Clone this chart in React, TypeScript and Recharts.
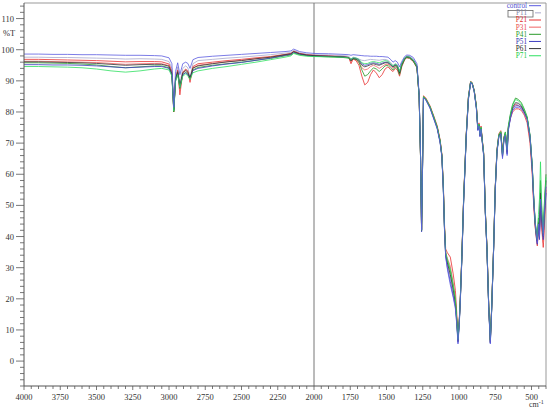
import { LineChart, Line, XAxis, YAxis, ReferenceLine } from 'recharts';

// wavenumbers, cm-1 (descending, the axis is reversed)
const wavenumbers = [
  4000, 3900, 3800, 3700, 3600, 3500, 3400, 3300, 3200, 3100,
  3050, 3000, 2980, 2967, 2955, 2940, 2925, 2905, 2885, 2870,
  2855, 2835, 2800, 2700, 2600, 2500, 2400, 2300, 2200, 2160,
  2140, 2100, 2050, 2000, 1900, 1800, 1760, 1745, 1730, 1710,
  1690, 1670, 1650, 1630, 1610, 1590, 1570, 1550, 1530, 1510,
  1490, 1470, 1455, 1440, 1425, 1410, 1395, 1375, 1360, 1340,
  1315, 1290, 1275, 1265, 1258, 1252, 1245, 1230, 1200, 1176,
  1150, 1130, 1118, 1108, 1100, 1092, 1080, 1060, 1040, 1025,
  1015, 1007, 998, 991, 980, 968, 950, 935, 920, 910,
  895, 880, 870, 862, 855, 848, 840, 830, 818, 807,
  795, 784, 775, 761, 750, 738, 725, 712, 700, 690,
  680, 668, 660, 645, 630, 610, 590, 570, 550, 530,
  510, 495, 485, 475, 465, 460, 452, 445, 438, 431,
  425, 419, 412, 405, 400,
];

const control = [
  98.6, 98.6, 98.5, 98.5, 98.4, 98.4, 98.3, 98.2, 98.2, 98.1,
  98.0, 97.4, 95.5, 81.5, 93.0, 95.8, 92.0, 95.5, 96.0, 95.6,
  94.0, 96.8, 97.5, 97.9, 98.2, 98.5, 98.8, 99.1, 99.4, 99.6,
  100.2, 99.4, 99.0, 98.8, 98.7, 98.5, 98.4, 98.2, 98.4, 98.3,
  98.2, 98.1, 98.0, 98.0, 97.9, 97.9, 97.9, 97.8, 97.8, 97.7,
  97.6, 96.8, 96.0, 96.5, 96.0, 94.5, 96.2, 97.8, 98.3, 98.2,
  97.5, 95.5, 86.0, 66.0, 42.0, 60.0, 84.5, 84.0, 81.2, 78.0,
  74.5, 70.0, 65.5, 55.0, 42.0, 33.5, 29.5, 24.5, 20.5, 16.8,
  11.5, 5.5, 12.0, 19.0, 33.0, 51.0, 72.0, 84.0, 89.5, 89.2,
  86.5, 81.0, 74.0, 75.5, 72.0, 74.5, 70.5, 66.0, 47.0, 35.5,
  17.0, 5.5, 16.0, 36.0, 55.0, 67.0, 72.0, 73.0, 65.0, 71.0,
  72.5, 66.0, 74.0, 78.0, 80.5, 81.5, 81.5, 81.0, 79.5, 77.5,
  72.0, 62.0, 52.0, 44.5, 40.0, 38.0, 44.0, 40.0, 52.0, 48.0,
  44.0, 40.0, 47.0, 52.0, 56.0,
];

const p11 = [
  97.6, 97.6, 97.5, 97.5, 97.4, 97.3, 97.2, 97.0, 97.1, 97.0,
  96.9, 96.2, 94.0, 80.5, 91.0, 94.5, 89.0, 94.0, 94.8, 94.2,
  91.0, 95.5, 96.5, 96.9, 97.3, 97.6, 98.0, 98.4, 98.9, 99.1,
  99.8, 99.0, 98.6, 98.4, 98.3, 98.1, 97.9, 97.0, 97.6, 97.4,
  97.0, 96.6, 96.5, 96.7, 96.9, 96.8, 96.7, 96.6, 96.8, 96.9,
  96.6, 95.8, 95.0, 95.5, 95.2, 93.0, 95.6, 97.5, 98.0, 97.9,
  97.0, 95.0, 85.5, 65.5, 42.0, 60.5, 84.8, 84.2, 81.6, 78.4,
  75.0, 70.5, 66.0, 55.5, 42.5, 34.0, 31.0, 27.0, 22.0, 18.5,
  12.5, 6.5, 13.0, 20.0, 34.0, 52.0, 72.5, 84.5, 89.6, 89.3,
  86.8, 81.5, 74.5, 76.0, 72.5, 75.0, 71.0, 66.5, 47.5, 36.0,
  17.5, 6.0, 16.5, 36.5, 55.5, 67.5, 72.5, 73.5, 66.0, 71.5,
  73.0, 67.0, 74.5, 78.5, 81.0, 82.5, 82.5, 82.0, 80.0, 78.0,
  72.5, 62.5, 52.5, 45.0, 40.5, 39.0, 45.0, 41.0, 55.0, 47.0,
  43.0, 41.0, 48.0, 53.0, 57.0,
];

const p21 = [
  96.9, 96.9, 96.8, 96.7, 96.6, 96.5, 96.3, 96.1, 96.2, 96.2,
  96.1, 95.4, 93.0, 80.0, 90.0, 93.5, 85.5, 92.8, 93.8, 93.2,
  89.5, 94.6, 95.5, 96.0, 96.5, 96.9, 97.4, 97.8, 98.5, 98.8,
  99.5, 98.8, 98.4, 98.2, 98.0, 97.8, 97.5, 95.5, 97.0, 96.5,
  95.0, 91.5, 88.7, 89.5, 92.0, 93.5, 92.5, 91.0, 92.0, 93.8,
  94.5, 93.5, 93.0, 94.0, 93.5, 91.5, 94.5, 96.8, 97.4, 97.2,
  96.2, 94.2, 85.0, 65.0, 42.5, 61.0, 85.2, 84.6, 82.0, 79.0,
  75.5, 71.0, 66.5, 57.0, 44.0, 36.0, 34.8, 33.4, 28.0, 22.7,
  15.0, 7.5, 13.5, 20.5, 34.5, 52.5, 73.0, 85.0, 89.8, 89.5,
  87.0, 82.0, 75.0, 76.5, 73.0, 75.5, 71.5, 67.0, 48.0, 36.5,
  18.0, 7.0, 17.0, 37.0, 56.0, 68.0, 73.0, 74.0, 67.0, 72.0,
  73.5, 68.0, 75.0, 78.0, 80.0, 81.0, 81.0, 80.5, 79.0, 76.5,
  70.0, 60.0, 50.0, 43.0, 39.0, 37.0, 42.0, 40.0, 50.0, 43.0,
  40.0, 36.5, 42.0, 50.0, 55.0,
];

const p31 = [
  96.3, 96.3, 96.2, 96.1, 96.0, 95.9, 95.6, 95.3, 95.5, 95.6,
  95.5, 94.9, 92.5, 80.5, 90.5, 93.0, 87.0, 92.5, 93.3, 92.8,
  90.0, 94.2, 95.0, 95.6, 96.1, 96.6, 97.1, 97.6, 98.3, 98.6,
  99.4, 98.7, 98.3, 98.1, 97.9, 97.7, 97.4, 96.0, 97.1, 96.8,
  95.8, 94.2, 93.5, 93.8, 94.6, 95.0, 94.6, 94.0, 94.6, 95.2,
  95.4, 94.6, 94.0, 94.8, 94.4, 92.2, 95.0, 97.0, 97.6, 97.4,
  96.4, 94.4, 85.2, 65.2, 42.2, 60.8, 85.0, 84.4, 81.8, 78.8,
  75.2, 70.8, 66.2, 56.0, 43.0, 35.0, 33.0, 30.5, 25.0, 20.5,
  13.5, 7.0, 13.0, 20.0, 34.0, 52.0, 72.8, 84.8, 89.7, 89.4,
  86.9, 81.8, 74.8, 76.2, 72.8, 75.2, 71.2, 66.8, 47.8, 36.2,
  17.8, 6.8, 16.8, 36.8, 55.8, 67.8, 72.8, 73.8, 66.5, 71.8,
  73.2, 67.5, 74.8, 78.6, 81.2, 82.5, 82.0, 81.5, 79.8, 77.5,
  71.0, 61.0, 51.0, 43.5, 39.5, 37.5, 43.0, 41.0, 51.0, 45.0,
  41.0, 38.0, 44.0, 51.0, 56.0,
];

const p41 = [
  95.8, 95.8, 95.7, 95.6, 95.4, 95.1, 94.6, 94.2, 94.5, 94.8,
  94.8, 94.2, 92.0, 80.0, 90.0, 92.5, 87.5, 92.0, 92.8, 92.2,
  90.5, 93.5, 94.3, 95.0, 95.5, 96.0, 96.6, 97.2, 98.0, 98.3,
  99.0, 98.4, 98.1, 97.9, 97.7, 97.5, 97.3, 96.5, 97.0, 96.9,
  96.0, 93.5, 91.5, 92.0, 93.2, 94.2, 93.8, 93.0, 93.8, 94.8,
  95.0, 94.0, 93.5, 94.5, 94.0, 92.0, 94.8, 96.9, 97.5, 97.3,
  96.3, 94.3, 85.1, 65.1, 42.1, 60.6, 84.9, 84.3, 81.7, 78.6,
  75.0, 70.6, 66.0, 55.8, 42.8, 34.6, 32.2, 29.0, 24.0, 19.5,
  13.0, 6.8, 12.8, 19.8, 33.8, 51.8, 72.6, 84.6, 89.6, 89.4,
  86.8, 81.6, 74.6, 76.0, 72.6, 75.0, 71.0, 66.6, 47.6, 36.0,
  17.6, 6.6, 16.6, 36.6, 55.6, 67.6, 72.6, 73.6, 66.2, 71.6,
  73.6, 68.0, 75.5, 79.5, 82.5, 84.5, 84.0, 83.0, 81.0, 78.5,
  72.5, 63.0, 53.0, 45.0, 40.5, 39.5, 46.0, 44.0, 58.0, 50.0,
  45.0, 42.0, 50.0, 56.0, 60.0,
];

const p51 = [
  95.2, 95.2, 95.1, 95.1, 95.0, 94.8, 94.5, 94.2, 94.4, 94.6,
  94.6, 94.0, 91.8, 80.5, 90.2, 92.5, 88.0, 92.0, 92.6, 92.0,
  91.0, 93.3, 94.0, 94.8, 95.4, 95.9, 96.6, 97.3, 98.2, 98.5,
  99.2, 98.6, 98.2, 98.0, 97.9, 97.7, 97.5, 96.8, 97.3, 97.2,
  96.8, 95.5, 95.0, 95.2, 95.6, 95.8, 95.6, 95.3, 95.7, 96.0,
  96.0, 95.2, 94.5, 95.2, 94.8, 92.8, 95.4, 97.2, 97.8, 97.6,
  96.7, 94.7, 85.3, 65.3, 41.5, 60.2, 84.6, 84.0, 81.3, 78.2,
  74.7, 70.2, 65.7, 55.2, 42.2, 33.8, 30.0, 25.5, 21.0, 17.5,
  12.0, 6.0, 12.3, 19.3, 33.3, 51.3, 72.2, 84.2, 89.5, 89.2,
  86.6, 81.2, 74.2, 75.7, 72.2, 74.7, 70.7, 66.2, 47.2, 35.7,
  17.2, 5.8, 16.2, 36.2, 55.2, 67.2, 72.2, 73.2, 65.5, 71.2,
  72.8, 66.5, 74.2, 78.2, 81.0, 82.0, 82.0, 81.5, 80.0, 78.0,
  72.0, 62.0, 52.0, 44.0, 39.0, 37.5, 43.0, 39.0, 50.0, 46.0,
  42.0, 39.0, 46.0, 50.0, 54.0,
];

const p61 = [
  96.1, 96.1, 96.0, 95.9, 95.8, 95.6, 95.3, 95.0, 95.2, 95.3,
  95.3, 94.7, 92.4, 80.8, 90.6, 93.0, 88.5, 92.6, 93.4, 92.8,
  91.0, 94.1, 94.8, 95.5, 96.1, 96.5, 97.1, 97.6, 98.4, 98.7,
  99.4, 98.7, 98.3, 98.1, 97.9, 97.7, 97.5, 96.4, 97.2, 97.0,
  96.4, 95.0, 94.5, 94.8, 95.2, 95.5, 95.2, 95.0, 95.4, 95.8,
  95.8, 95.0, 94.4, 95.0, 94.6, 92.5, 95.2, 97.1, 97.7, 97.5,
  96.5, 94.5, 85.2, 65.2, 41.8, 60.4, 84.7, 84.1, 81.5, 78.4,
  74.9, 70.4, 65.8, 55.4, 42.4, 34.2, 31.5, 27.8, 23.0, 18.8,
  12.8, 6.3, 12.6, 19.6, 33.6, 51.6, 72.4, 84.4, 89.5, 89.3,
  86.7, 81.4, 74.4, 75.9, 72.4, 74.9, 70.9, 66.4, 47.4, 35.9,
  17.4, 6.0, 16.4, 36.4, 55.4, 67.4, 72.4, 73.4, 65.8, 71.4,
  73.0, 67.0, 74.6, 78.8, 81.6, 83.0, 82.8, 82.0, 80.2, 78.0,
  72.0, 62.5, 52.5, 44.5, 40.0, 38.5, 44.5, 42.0, 54.0, 47.0,
  43.0, 40.0, 47.0, 54.0, 58.0,
];

const p71 = [
  94.6, 94.6, 94.5, 94.4, 94.2, 93.8, 93.2, 92.8, 93.2, 93.8,
  94.0, 93.5, 91.5, 80.3, 89.8, 92.0, 88.0, 91.5, 92.2, 91.6,
  90.5, 92.6, 93.2, 94.0, 94.6, 95.3, 96.0, 96.8, 97.6, 98.0,
  98.8, 98.2, 97.9, 97.8, 97.7, 97.6, 97.4, 97.0, 97.4, 97.3,
  96.9, 95.8, 95.5, 95.6, 96.0, 96.2, 96.0, 95.8, 96.2, 96.5,
  96.3, 95.4, 94.8, 95.4, 95.0, 93.0, 95.5, 97.2, 97.8, 97.6,
  96.6, 94.6, 85.1, 65.0, 42.0, 60.5, 84.9, 84.3, 81.7, 78.7,
  75.1, 70.7, 66.1, 55.9, 42.9, 34.8, 32.5, 29.5, 24.5, 20.0,
  13.2, 6.9, 12.9, 19.9, 33.9, 51.9, 72.7, 84.7, 89.7, 89.4,
  86.8, 81.7, 74.7, 76.1, 72.7, 75.1, 71.1, 66.7, 47.7, 36.1,
  17.7, 6.7, 16.7, 36.7, 55.7, 67.7, 72.7, 73.7, 66.3, 71.7,
  73.4, 67.8, 75.2, 79.2, 82.2, 84.0, 83.6, 82.6, 80.6, 78.3,
  72.3, 62.8, 52.8, 44.8, 40.2, 39.0, 47.0, 52.0, 64.0, 52.0,
  46.0, 41.0, 49.0, 55.0, 59.0,
];

const seriesNames = ['control', 'P11', 'P21', 'P31', 'P41', 'P51', 'P61', 'P71'];
const seriesValues = [control, p11, p21, p31, p41, p51, p61, p71];
const lineColors = ['#5a5ae0', '#a8a8cc', '#e83030', '#f06464', '#2a9a2a', '#3c3cc0', '#333333', '#2ee060'];
const textColors = ['#5050d0', '#8484a8', '#e02828', '#e84848', '#2a9a2a', '#3434b0', '#222222', '#22cc44'];

const xLabels = [4000, 3750, 3500, 3250, 3000, 2750, 2500, 2250, 2000, 1750, 1500, 1250, 1000, 750, 500];
const yLabels = [0, 10, 20, 30, 40, 50, 60, 70, 80, 90, 100, 110];

const xTicks: number[] = [];
for (let v = 4000; v >= 400; v -= 50) xTicks.push(v);
const yTicks: number[] = [];
for (let v = -8; v <= 114; v += 2) yTicks.push(v);

const data = wavenumbers.map((wn, i) => {
  const row: Record<string, number> = { wn };
  seriesNames.forEach((name, k) => {
    row[name] = seriesValues[k][i];
  });
  return row;
});

const font = '"Liberation Serif", "Times New Roman", serif';

const XTick = (props: any) => {
  const { x, y, payload } = props;
  const major = xLabels.includes(payload.value);
  return (
    <g>
      <line x1={x} x2={x} y1={y} y2={y + (major ? 4 : 3)} stroke="#555" strokeWidth={0.8} />
      {major && (
        <text x={x} y={y + 13.5} textAnchor="middle" fontSize={8.5} fontFamily={font} fill="#333">
          {payload.value}
        </text>
      )}
    </g>
  );
};

const YTick = (props: any) => {
  const { x, y, payload } = props;
  const major = yLabels.includes(payload.value);
  return (
    <g>
      <line x1={x - (major ? 8 : 4)} x2={x} y1={y} y2={y} stroke="#555" strokeWidth={0.8} />
      {major && (
        <text x={x - 10} y={y} dy={3} textAnchor="end" fontSize={8.5} fontFamily={font} fill="#333">
          {payload.value}
        </text>
      )}
    </g>
  );
};

const drawOrder = [1, 2, 3, 4, 5, 6, 7, 0];

export default function App() {
  return (
    <div style={{ position: 'absolute', left: 0, top: 0, width: 550, height: 412, background: '#fff' }}>
      <LineChart width={550} height={412} data={data} margin={{ top: 3, right: 4, bottom: 0, left: 0 }}>
        <XAxis
          dataKey="wn"
          type="number"
          domain={[400, 4000]}
          reversed
          ticks={xTicks}
          interval={0}
          tickLine={false}
          tickSize={0}
          tickMargin={0}
          height={26}
          tick={XTick}
          axisLine={{ stroke: '#555', strokeWidth: 1 }}
        />
        <YAxis
          type="number"
          domain={[-8, 115]}
          ticks={yTicks}
          interval={0}
          tickLine={false}
          tickSize={0}
          tickMargin={0}
          width={24}
          tick={YTick}
          axisLine={{ stroke: '#555', strokeWidth: 1 }}
          allowDataOverflow
        />
        <ReferenceLine y={115} stroke="#999" strokeWidth={1} />
        <ReferenceLine x={400} stroke="#999" strokeWidth={1} />
        <ReferenceLine x={2000} stroke="#777" strokeWidth={1} />
        {drawOrder.map((k) => (
          <Line
            key={seriesNames[k]}
            dataKey={seriesNames[k]}
            type="linear"
            stroke={lineColors[k]}
            strokeWidth={0.8}
            dot={false}
            activeDot={false}
            isAnimationActive={false}
          />
        ))}
      </LineChart>
      <svg
        width={550}
        height={412}
        style={{ position: 'absolute', left: 0, top: 0, pointerEvents: 'none' }}
      >
        <text x={3} y={36} fontSize={8.5} fontFamily={font} fill="#333">%T</text>
        <text x={529} y={407} fontSize={8} fontFamily={font} fill="#333">
          cm<tspan dy={-3} fontSize={6}>-1</tspan>
        </text>
        <rect x={508} y={10.5} width={25} height={6.5} fill="none" stroke="#666" strokeWidth={0.8} />
        {seriesNames.map((name, k) => {
          const cy = 5.7 + k * 7.15;
          return (
            <g key={name}>
              <text x={527} y={cy + 2.4} textAnchor="end" fontSize={7.2} fontFamily={font} fill={textColors[k]}>
                {name}
              </text>
              <line x1={k === 1 ? 535 : 529} x2={541} y1={cy} y2={cy} stroke={lineColors[k]} strokeWidth={1} />
            </g>
          );
        })}
      </svg>
    </div>
  );
}
